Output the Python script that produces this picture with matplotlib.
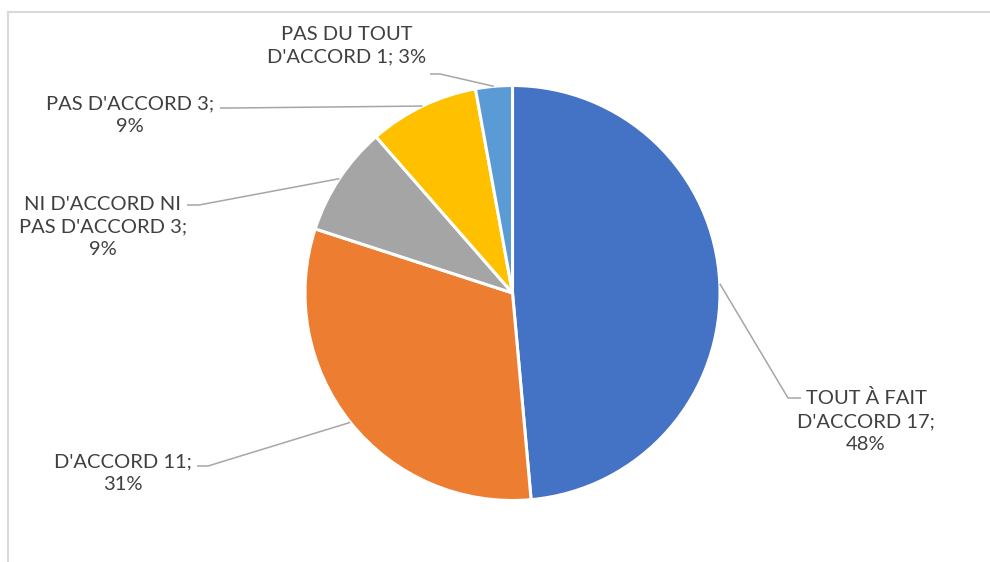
import numpy as np
import matplotlib
matplotlib.use("Agg")
import matplotlib.pyplot as plt
from matplotlib.lines import Line2D

# ---- data ----
categories = ["TOUT À FAIT D'ACCORD", "D'ACCORD", "NI D'ACCORD NI PAS D'ACCORD",
              "PAS D'ACCORD", "PAS DU TOUT D'ACCORD"]
counts = [17, 11, 3, 3, 1]
percent_labels = ["48%", "31%", "9%", "9%", "3%"]
colors = ["#4472C4", "#ED7D31", "#A5A5A5", "#FFC000", "#5B9BD5"]

# ---- layout (pixel-like coordinates, y measured from top) ----
W, H = 990, 562
center_px = (512.5, 293.0)
radius_px = 207.5
# wrapped label texts (layout only)
label_texts = [
    "TOUT À FAIT\nD'ACCORD {c};\n{p}",
    "D'ACCORD {c};\n{p}",
    "NI D'ACCORD NI\nPAS D'ACCORD {c};\n{p}",
    "PAS D'ACCORD {c};\n{p}",
    "PAS DU TOUT\nD'ACCORD {c}; {p}",
]
label_pos_px = [(866, 421), (123, 473), (103, 227), (130, 115), (347, 45.5)]
elbow_px = [(788, 398), (208, 466), (199, 205), (232, 108), (440, 74)]
end_px = [(801, 398), (197, 466), (187, 205), (220, 108), (430, 74)]

fig = plt.figure(figsize=(W / 100, H / 100), dpi=100)
ax = fig.add_axes([0, 0, 1, 1])

def yd(y):
    return H - y

cx, cy = center_px[0], yd(center_px[1])
wedges, _ = ax.pie(counts, colors=colors, startangle=90, counterclock=False,
                   center=(cx, cy), radius=radius_px,
                   wedgeprops=dict(edgecolor="white", linewidth=2.2))
ax.set_xlim(0, W)
ax.set_ylim(0, H)
ax.set_aspect("auto")
ax.axis("off")

text_color = "#404040"
leader_color = "#A6A6A6"
for i, w in enumerate(wedges):
    theta = np.deg2rad((w.theta1 + w.theta2) / 2)
    sx = cx + radius_px * np.cos(theta)
    sy = cy + radius_px * np.sin(theta)
    ex, ey = elbow_px[i]
    tx, ty = end_px[i]
    ax.plot([sx, ex, tx], [sy, yd(ey), yd(ty)], color=leader_color, lw=1.1,
            solid_capstyle="butt", zorder=1)
    txt = label_texts[i].format(c=counts[i], p=percent_labels[i])
    lx, ly = label_pos_px[i]
    ax.text(lx, yd(ly), txt, ha="center", va="center", multialignment="center",
            fontsize=14.5, family=["Lato", "DejaVu Sans"], color=text_color,
            linespacing=1.42)

# chart frame (top and left edges visible in the crop)
fig.add_artist(Line2D([8 / W, 1], [1 - 12 / H, 1 - 12 / H], transform=fig.transFigure,
                      color="#D9D9D9", lw=1.5))
fig.add_artist(Line2D([8 / W, 8 / W], [0, 1 - 12 / H], transform=fig.transFigure,
                      color="#D9D9D9", lw=1.5))

fig.savefig("out.png", dpi=100, facecolor="white")
